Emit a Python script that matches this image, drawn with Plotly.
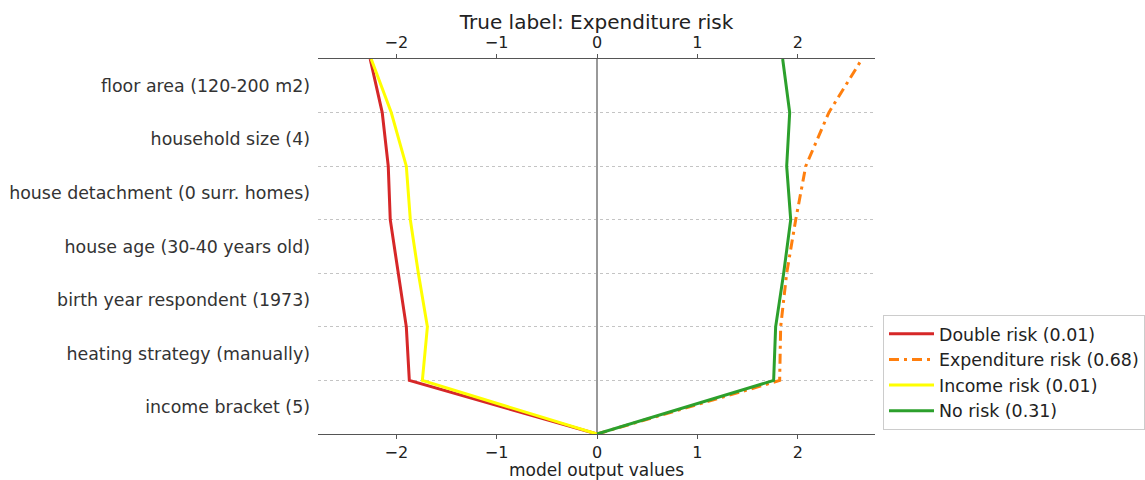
import plotly.graph_objects as go

# Features, listed bottom to top as they stack in the decision plot
features = [
    "income bracket (5)",
    "heating strategy (manually)",
    "birth year respondent (1973)",
    "house age (30-40 years old)",
    "house detachment (0 surr. homes)",
    "household size (4)",
    "floor area (120-200 m2)",
]

# Cumulative model output at each feature boundary (base value first)
double_risk = [0, -1.87, -1.90, -1.98, -2.06, -2.08, -2.14, -2.26]
expenditure_risk = [0, 1.82, 1.83, 1.89, 1.98, 2.08, 2.31, 2.64]
income_risk = [0, -1.74, -1.69, -1.78, -1.86, -1.90, -2.05, -2.25]
no_risk = [0, 1.76, 1.78, 1.86, 1.93, 1.89, 1.92, 1.85]

series_names = ["Double risk (0.01)", "Expenditure risk (0.68)",
                "Income risk (0.01)", "No risk (0.31)"]
series_values = [double_risk, expenditure_risk, income_risk, no_risk]
colors = ["#d62728", "#ff7f0e", "#ffff00", "#2ca02c"]
dashes = ["solid", "10px,5px,3px,5px", "solid", "solid"]

levels = list(range(len(features) + 1))
font_family = "DejaVu Sans, Liberation Sans, sans-serif"

fig = go.Figure()
for name, vals, col, dash in zip(series_names, series_values, colors, dashes):
    fig.add_trace(go.Scatter(
        x=vals, y=levels, mode="lines", name=name,
        line=dict(color=col, width=3, dash=dash),
        hoverinfo="skip",
    ))

x_range = [-2.78, 2.77]
tick_vals = [-2, -1, 0, 1, 2]
tick_text = ["\u22122", "\u22121", "0", "1", "2"]

axis_common = dict(
    range=x_range, tickvals=tick_vals, ticktext=tick_text,
    showline=True, linecolor="#555", linewidth=1,
    ticks="outside", ticklen=4, tickcolor="#555",
    tickfont=dict(size=16, color="#222"),
    showgrid=False, fixedrange=True, automargin=False,
)

fig.update_layout(
    width=1145, height=480,
    margin=dict(l=318, r=270, t=59, b=46, autoexpand=False),
    paper_bgcolor="white", plot_bgcolor="white",
    font=dict(family=font_family, size=17, color="#333"),
    title=dict(text="True label: Expenditure risk",
               x=(318 + 875) / 2 / 1145, xanchor="center",
               y=1 - 22 / 480, yanchor="middle",
               font=dict(size=20, color="#222")),
    xaxis=dict(
        **axis_common,
        zeroline=True, zerolinecolor="#999", zerolinewidth=1.5,
        title=dict(text="model output values", standoff=2,
                   font=dict(size=17, color="#222")),
    ),
    xaxis2=dict(
        **axis_common,
        overlaying="x", side="top", anchor="y", zeroline=False,
    ),
    yaxis=dict(
        range=[0, len(features)],
        tickvals=[i + 0.5 for i in range(len(features))],
        ticktext=features,
        tickfont=dict(size=17.4, color="#333"),
        ticklabelstandoff=7,
        ticks="", showline=False, zeroline=False, showgrid=False,
        minor=dict(showgrid=True, tick0=0, dtick=1, gridcolor="#c4c4c4",
                   griddash="dot", gridwidth=1, ticks=""),
        fixedrange=True, automargin=False,
    ),
    legend=dict(
        x=(883 - 318) / 557, y=1 - (315 - 59) / 375,
        xanchor="left", yanchor="top",
        bgcolor="white", bordercolor="#ccc", borderwidth=1,
        font=dict(size=17.4, color="#222"),
        itemwidth=45,
    ),
    showlegend=True,
)

# An empty trace on the top axis so it is laid out alongside the bottom one
fig.add_trace(go.Scatter(x=[None], y=[None], xaxis="x2", showlegend=False,
                         hoverinfo="skip"))

fig.write_html("out.html")
